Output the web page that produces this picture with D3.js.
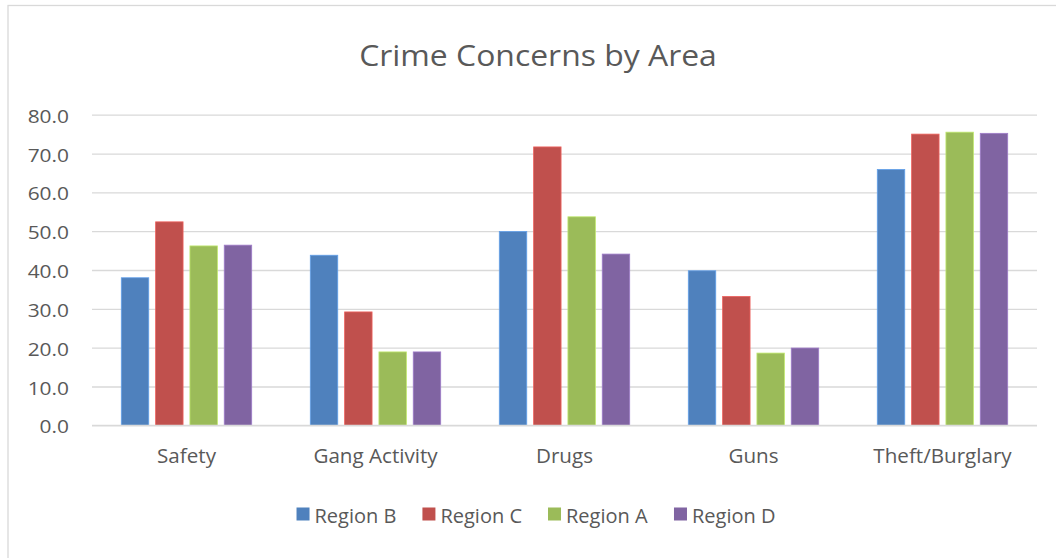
<!DOCTYPE html>
<html>
<head>
<meta charset="utf-8">
<script src="https://cdn.jsdelivr.net/npm/d3@7"></script>
<style>
  html, body { margin: 0; padding: 0; background: #fff; }
  svg { display: block; }
  text { font-family: "Open Sans", Lato, sans-serif; fill: #595959; }
</style>
</head>
<body>
<svg id="chart" width="1056" height="558"></svg>
<script>
// Categories along the x axis
const categories = ["Safety", "Gang Activity", "Drugs", "Guns", "Theft/Burglary"];
// Series names in legend order
const seriesNames = ["Region B", "Region C", "Region A", "Region D"];
// One value per category for each series
const regionB = [38.0, 43.8, 49.9, 39.8, 65.9];
const regionC = [52.4, 29.2, 71.7, 33.2, 75.0];
const regionA = [46.2, 18.9, 53.7, 18.6, 75.5];
const regionD = [46.4, 18.9, 44.1, 19.9, 75.2];
const seriesValues = [regionB, regionC, regionA, regionD];
const seriesColors = ["#4F81BD", "#C0504D", "#9BBB59", "#8064A2"];
const yTicks = [0, 10, 20, 30, 40, 50, 60, 70, 80];

const svg = d3.select("#chart");
const W = 1056, H = 558;
const plot = { left: 92, right: 1037, top: 114.7, bottom: 425.3 };

// widen glyphs horizontally by factor k, keeping the text anchor in place
function stretch(sel, k) {
  sel.each(function () {
    const len = this.getComputedTextLength();
    d3.select(this).attr("textLength", len * k).attr("lengthAdjust", "spacingAndGlyphs");
  });
}

// chart frame (right and bottom edges fall outside the canvas)
svg.append("rect")
  .attr("x", 8).attr("y", 5.5)
  .attr("width", W + 10).attr("height", H + 10)
  .attr("fill", "#fff").attr("stroke", "#d9d9d9").attr("stroke-width", 1.3);

// title
svg.append("text")
  .attr("x", 538).attr("y", 66)
  .attr("text-anchor", "middle")
  .style("font-size", "29px")
  .text("Crime Concerns by Area")
  .call(stretch, 1.1);

const y = d3.scaleLinear().domain([0, 80]).range([plot.bottom, plot.top]);
const x0 = d3.scaleBand().domain(categories)
  .range([plot.left, plot.right]).paddingInner(0.31).paddingOuter(0.155);
const x1 = d3.scaleBand().domain(seriesNames)
  .range([0, x0.bandwidth()]).paddingInner(0.2);

// gridlines and y labels
const yAxis = d3.axisLeft(y).tickValues(yTicks)
  .tickFormat(d3.format(".1f"))
  .tickSize(-(plot.right - plot.left)).tickPadding(23);
const gy = svg.append("g").attr("transform", `translate(${plot.left},0)`).call(yAxis);
gy.select(".domain").remove();
gy.selectAll(".tick line").attr("stroke", "#d9d9d9").attr("stroke-width", 1.3);
gy.selectAll(".tick text")
  .attr("dy", "0.4em")
  .style("font-size", "19px").style("fill", "#595959")
  .style("font-family", "'Open Sans', sans-serif")
  .call(stretch, 1.1);

// bars
const groups = svg.append("g").selectAll("g")
  .data(categories)
  .join("g")
  .attr("transform", d => `translate(${x0(d)},0)`);

groups.selectAll("rect")
  .data((c, ci) => seriesNames.map((s, si) => ({ s, v: seriesValues[si][ci], color: seriesColors[si] })))
  .join("rect")
  .attr("x", d => x1(d.s))
  .attr("width", x1.bandwidth())
  .attr("y", d => y(d.v))
  .attr("height", d => y(0) - y(d.v))
  .attr("fill", d => d.color)
  .attr("stroke", d => d3.color(d.color).brighter(0.6))
  .attr("stroke-width", 0.8);

// x axis baseline and category labels
const xAxis = d3.axisBottom(x0).tickSize(0).tickPadding(24);
const gx = svg.append("g").attr("transform", `translate(0,${plot.bottom})`).call(xAxis);
gx.select(".domain").attr("stroke", "#d9d9d9").attr("stroke-width", 1.3)
  .attr("d", `M${plot.left},0H${plot.right}`);
gx.selectAll(".tick text")
  .attr("dy", "0.71em")
  .style("font-size", "20px").style("fill", "#595959")
  .style("font-family", "'Open Sans', sans-serif")
  .call(stretch, 1.03);

// legend
const legend = svg.append("g");
const items = legend.selectAll("g").data(seriesNames).join("g");
items.append("rect")
  .attr("width", 13).attr("height", 13)
  .attr("y", -15.5)
  .attr("fill", (d, i) => seriesColors[i]);
items.append("text")
  .attr("x", 18).attr("y", 0)
  .style("font-size", "20px")
  .text(d => d);
let cx = 0;
const offsets = [];
items.each(function () {
  offsets.push(cx);
  cx += this.getBBox().width + 26;
});
const totalW = cx - 26;
const startX = 536 - totalW / 2;
items.attr("transform", (d, i) => `translate(${startX + offsets[i]},${523})`);
</script>
</body>
</html>
